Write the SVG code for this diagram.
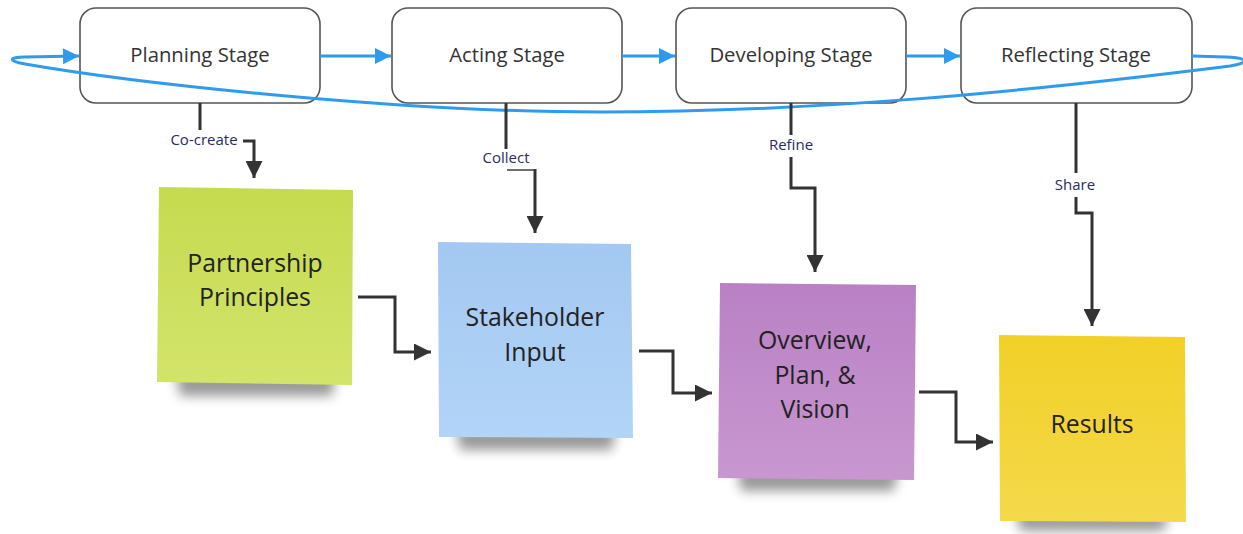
<svg xmlns="http://www.w3.org/2000/svg" width="1243" height="534" viewBox="0 0 1243 534">
  <defs>
    <style>
      .stage rect { fill: #ffffff; stroke: #555555; stroke-width: 1.6; }
      .stage text { font-family: "Open Sans", "Noto Sans", "Liberation Sans", sans-serif; font-size: 20.3px; fill: #333333; text-anchor: middle; }
      .note text { font-family: "Open Sans", "Noto Sans", "Liberation Sans", sans-serif; font-size: 24.8px; fill: #222222; text-anchor: middle; }
      .conn { fill: none; stroke: #333333; stroke-width: 3; }
      .thin { fill: none; stroke: #333333; stroke-width: 1.4; }
      .flow { fill: none; stroke: #2f9bef; stroke-width: 3; }
      .lbl { font-family: "Open Sans", "Noto Sans", "Liberation Sans", sans-serif; font-size: 15px; fill: #2b2b5e; text-anchor: middle; }
    </style>
    <marker id="ak" viewBox="0 0 10 10" refX="10" refY="5" markerWidth="17" markerHeight="17" markerUnits="userSpaceOnUse" orient="auto">
      <path d="M0,0 L10,5 L0,10 z" fill="#333333"/>
    </marker>
    <marker id="ab" viewBox="0 0 10 10" refX="10" refY="5" markerWidth="17" markerHeight="16" markerUnits="userSpaceOnUse" orient="auto">
      <path d="M0,0 L10,5 L0,10 z" fill="#2f9bef"/>
    </marker>
    <filter id="sh" x="-30%" y="-150%" width="160%" height="400%">
      <feGaussianBlur stdDeviation="6"/>
    </filter>
    <linearGradient id="gG" x1="0" y1="0" x2="0" y2="1">
      <stop offset="0" stop-color="#c6da4f"/>
      <stop offset="1" stop-color="#d3e46b"/>
    </linearGradient>
    <linearGradient id="gB" x1="0" y1="0" x2="0" y2="1">
      <stop offset="0" stop-color="#a3c8f1"/>
      <stop offset="1" stop-color="#b2d4f7"/>
    </linearGradient>
    <linearGradient id="gP" x1="0" y1="0" x2="0" y2="1">
      <stop offset="0" stop-color="#b981c4"/>
      <stop offset="1" stop-color="#c897d0"/>
    </linearGradient>
    <linearGradient id="gY" x1="0" y1="0" x2="0" y2="1">
      <stop offset="0" stop-color="#f1d027"/>
      <stop offset="1" stop-color="#f4d94b"/>
    </linearGradient>
  </defs>
  <rect width="1243" height="534" fill="#ffffff"/>

  <g id="planning-stage" class="stage">
    <rect x="80" y="8" width="240" height="95" rx="16"/>
    <text x="200" y="62">Planning Stage</text>
  </g>
  <g id="acting-stage" class="stage">
    <rect x="392" y="8" width="230" height="95" rx="16"/>
    <text x="507" y="62">Acting Stage</text>
  </g>
  <g id="developing-stage" class="stage">
    <rect x="676" y="8" width="230" height="95" rx="16"/>
    <text x="791" y="62">Developing Stage</text>
  </g>
  <g id="reflecting-stage" class="stage">
    <rect x="961" y="8" width="231" height="95" rx="16"/>
    <text x="1076" y="62">Reflecting Stage</text>
  </g>

  <g id="partnership-principles" class="note">
    <path d="M176,374 L336,374 L332,396 L180,396 z" fill="#000000" opacity="0.4" filter="url(#sh)"/>
    <polygon points="159,187 353,190 352,385 157,382" fill="url(#gG)"/>
    <text x="255" y="272">Partnership</text>
    <text x="255" y="306">Principles</text>
  </g>
  <g id="stakeholder-input" class="note">
    <path d="M456,428 L616,428 L612,450 L460,450 z" fill="#000000" opacity="0.4" filter="url(#sh)"/>
    <polygon points="438,242 631,244 633,438 439,437" fill="url(#gB)"/>
    <text x="535" y="326">Stakeholder</text>
    <text x="535" y="361">Input</text>
  </g>
  <g id="overview-plan-vision" class="note">
    <path d="M737,469 L898,469 L894,491 L741,491 z" fill="#000000" opacity="0.4" filter="url(#sh)"/>
    <polygon points="720,283 916,285 914,480 718,478" fill="url(#gP)"/>
    <text x="815" y="349">Overview,</text>
    <text x="815" y="384">Plan, &amp;</text>
    <text x="815" y="418">Vision</text>
  </g>
  <g id="results" class="note">
    <path d="M1016,512 L1168,512 L1164,531 L1020,531 z" fill="#000000" opacity="0.4" filter="url(#sh)"/>
    <polygon points="999,335 1185,337 1186,522 1000,521" fill="url(#gY)"/>
    <text x="1092" y="433">Results</text>
  </g>

  <g id="connectors">
    <line class="flow" x1="320" y1="56" x2="391" y2="56" marker-end="url(#ab)"/>
    <line class="flow" x1="622" y1="56" x2="675" y2="56" marker-end="url(#ab)"/>
    <line class="flow" x1="906" y1="56" x2="960" y2="56" marker-end="url(#ab)"/>
    <path class="flow" d="M1192,56 L1226,57 C1250,58 1250,63 1230,66 C1000,95 800,112 600,112 C400,112 140,84 25,64 C8,61 8,57 25,57 L79,56" marker-end="url(#ab)"/>

    <path class="conn" d="M200,103 L200,130"/>
    <text class="lbl" x="204" y="145">Co-create</text>
    <path class="conn" d="M243,141 L254,141 L254,178" marker-end="url(#ak)"/>

    <path class="conn" d="M506,103 L506,149"/>
    <text class="lbl" x="506" y="163">Collect</text>
    <path class="thin" d="M507,170 L535,170"/>
    <path class="conn" d="M535,169 L535,233" marker-end="url(#ak)"/>

    <path class="conn" d="M791,103 L791,135"/>
    <text class="lbl" x="791" y="150">Refine</text>
    <path class="conn" d="M791,157 L791,188 L815,188 L815,272" marker-end="url(#ak)"/>

    <path class="conn" d="M1076,103 L1076,173"/>
    <text class="lbl" x="1075" y="190">Share</text>
    <path class="conn" d="M1076,197 L1076,213 L1092,213 L1092,326" marker-end="url(#ak)"/>

    <path class="conn" d="M358,297 L395,297 L395,352 L431,352" marker-end="url(#ak)"/>
    <path class="conn" d="M639,351 L673,351 L673,393 L712,393" marker-end="url(#ak)"/>
    <path class="conn" d="M919,392 L956,392 L956,442 L993,442" marker-end="url(#ak)"/>
  </g>
</svg>
